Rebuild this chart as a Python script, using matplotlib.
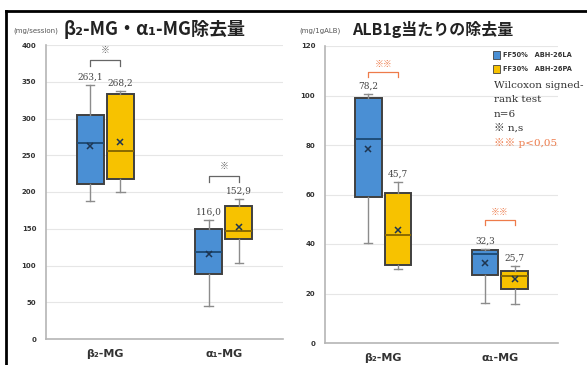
import matplotlib
matplotlib.use("Agg")
import matplotlib.pyplot as plt
from matplotlib.lines import Line2D
from matplotlib.patches import Rectangle

categories = ["β₂-MG", "α₁-MG"]
groups = ["FF50%   ABH-26LA", "FF30%   ABH-26PA"]

# per-session removal (mg/session): [β2-MG, α1-MG]
sess_blue_low = [188, 45]
sess_blue_q1 = [211, 89]
sess_blue_med = [266, 119]
sess_blue_q3 = [305, 150]
sess_blue_high = [346, 162]
sess_blue_mean = [263.1, 116.0]

sess_yel_low = [200, 104]
sess_yel_q1 = [218, 136]
sess_yel_med = [256, 147]
sess_yel_q3 = [333, 181]
sess_yel_high = [338, 191]
sess_yel_mean = [268.2, 152.9]

# removal per 1 g albumin loss (mg/1gALB)
alb_blue_low = [40.5, 16.1]
alb_blue_q1 = [59.0, 27.4]
alb_blue_med = [82.5, 35.8]
alb_blue_q3 = [99.0, 37.5]
alb_blue_high = [100.5, 38.0]
alb_blue_mean = [78.2, 32.3]

alb_yel_low = [30.0, 15.6]
alb_yel_q1 = [31.6, 22.0]
alb_yel_med = [43.6, 27.1]
alb_yel_q3 = [60.7, 29.2]
alb_yel_high = [64.9, 31.1]
alb_yel_mean = [45.7, 25.7]

sess_marks = ["※", "※"]
alb_marks = ["※※", "※※"]

BLUE = "#4a8fd4"
BLUE_MED = "#1f4e79"
YEL = "#f7c200"
YEL_MED = "#8a6a00"
EDGE = "#404040"
ORANGE = "#ee7b4a"

SERIF = ["DejaVu Serif"]
JP = ["Noto Sans CJK JP", "DejaVu Sans"]

W, H = 587, 365
fig = plt.figure(figsize=(W / 100, H / 100), dpi=100)


def fx(px):
    return px / W


def fy(py):
    return 1 - py / H


def stats(low, q1, med, q3, high, mean):
    out = []
    for i in range(len(low)):
        out.append(dict(whislo=low[i], q1=q1[i], med=med[i], q3=q3[i],
                        whishi=high[i], mean=mean[i], fliers=[]))
    return out


def draw_panel(ax, blue, yel, ymax, step, mark_gap):
    centers = [0.5, 1.5]
    off = 0.128
    for st, shift, face, medc in [(blue, -off, BLUE, BLUE_MED), (yel, off, YEL, YEL_MED)]:
        ax.bxp(st, positions=[c + shift for c in centers], widths=0.228,
               patch_artist=True, showmeans=True, capwidths=0.07,
               boxprops=dict(facecolor=face, edgecolor=EDGE, linewidth=1.4),
               medianprops=dict(color=medc, linewidth=1.4),
               whiskerprops=dict(color="#8c8c8c", linewidth=1.0),
               capprops=dict(color="#8c8c8c", linewidth=1.0),
               meanprops=dict(marker="x", markeredgecolor="#1e3550",
                              markersize=4, markeredgewidth=1.1),
               zorder=3)
    ax.set_xlim(0, 2)
    ax.set_ylim(0, ymax)
    ax.set_yticks(range(0, ymax + 1, step))
    ax.set_xticks(centers)
    ax.set_xticklabels(categories, fontsize=8, fontweight="bold",
                       color="#333333", family=["DejaVu Sans"])
    ax.tick_params(axis="y", labelsize=5, length=0, pad=7, labelcolor="#333333")
    ax.tick_params(axis="x", length=0, pad=7)
    for lab in ax.get_yticklabels():
        lab.set_fontweight("bold")
    ax.grid(axis="y", color="#e6e6e6", linewidth=0.8)
    ax.set_axisbelow(True)
    for s in ["top", "right"]:
        ax.spines[s].set_visible(False)
    for s in ["left", "bottom"]:
        ax.spines[s].set_color("#b5b5b5")
        ax.spines[s].set_linewidth(1.2)

    # mean value labels
    for i, c in enumerate(centers):
        for st, shift in [(blue, -off), (yel, off)]:
            s = st[i]
            ax.text(c + shift, s["whishi"] + mark_gap * 0.9,
                    f"{s['mean']:.1f}".replace(".", ","),
                    ha="center", va="bottom", fontsize=6.5, color="#444444",
                    family=SERIF)
    return centers, off


def bracket(ax, x0, x1, y, leg, mark, color):
    ax.plot([x0, x0, x1, x1], [y - leg, y, y, y - leg], color=color,
            linewidth=0.9, zorder=4)
    ax.text((x0 + x1) / 2, y + leg * 0.8, mark, ha="center", va="bottom",
            fontsize=6.5, color=color, family=JP)


# left panel: per session
ax1 = fig.add_axes([fx(46), fy(339), fx(283) - fx(46), fy(45) - fy(339)])
sb = stats(sess_blue_low, sess_blue_q1, sess_blue_med, sess_blue_q3, sess_blue_high, sess_blue_mean)
sy = stats(sess_yel_low, sess_yel_q1, sess_yel_med, sess_yel_q3, sess_yel_high, sess_yel_mean)
c1, off = draw_panel(ax1, sb, sy, 400, 50, 5)
bracket(ax1, c1[0] - off, c1[0] + off, 380, 8, sess_marks[0], "#666666")
bracket(ax1, c1[1] - off, c1[1] + off, 222, 8, sess_marks[1], "#666666")

# right panel: per 1 g albumin
ax2 = fig.add_axes([fx(325), fy(343), fx(558) - fx(325), fy(46) - fy(343)])
ab = stats(alb_blue_low, alb_blue_q1, alb_blue_med, alb_blue_q3, alb_blue_high, alb_blue_mean)
ay = stats(alb_yel_low, alb_yel_q1, alb_yel_med, alb_yel_q3, alb_yel_high, alb_yel_mean)
c2, off = draw_panel(ax2, ab, ay, 120, 20, 1.5)
bracket(ax2, c2[0] - off, c2[0] + off, 109.3, 1.8, alb_marks[0], ORANGE)
bracket(ax2, c2[1] - off, c2[1] + off, 49.5, 1.8, alb_marks[1], ORANGE)

# titles and units
fig.text(fx(13), fy(31), "(mg/session)", fontsize=5, color="#555555", va="center")
fig.text(fx(64), fy(29), "β₂-MG・α₁-MG除去量", fontsize=13, color="#222222",
         va="center", fontweight="bold", family=JP)
fig.text(fx(299), fy(31), "(mg/1gALB)", fontsize=5, color="#555555", va="center")
fig.text(fx(352), fy(29), "ALB1g当たりの除去量", fontsize=11.5, color="#222222",
         va="center", fontweight="bold", family=JP)

# legend and test notes
for k, (face, label) in enumerate(zip([BLUE, YEL], groups)):
    yy = 55 + k * 14
    fig.patches.append(Rectangle((fx(493), fy(yy + 3.5)), fx(7), 7 / H,
                                 facecolor=face, edgecolor=EDGE, linewidth=0.6,
                                 transform=fig.transFigure, figure=fig))
    fig.text(fx(503), fy(yy), label, fontsize=4.8, fontweight="bold",
             color="#333333", va="center")
notes = ["Wilcoxon signed-", "rank test", "n=6", "※ n,s"]
for k, t in enumerate(notes):
    fig.text(fx(494), fy(85 + k * 14.5), t, fontsize=7.5, color="#333333",
             va="center", family=["DejaVu Serif", "Noto Sans CJK JP"])
fig.text(fx(494), fy(85 + 4 * 14.5), "※※ p<0,05", fontsize=7.5, color=ORANGE,
         va="center", family=["DejaVu Serif", "Noto Sans CJK JP"])

# outer frame
fig.add_artist(Line2D([fx(6), 1], [fy(11), fy(11)], color="black", linewidth=2,
                      transform=fig.transFigure))
fig.add_artist(Line2D([fx(6), fx(6)], [0, fy(11)], color="black", linewidth=2,
                      transform=fig.transFigure))

fig.savefig("out.png", dpi=100)
